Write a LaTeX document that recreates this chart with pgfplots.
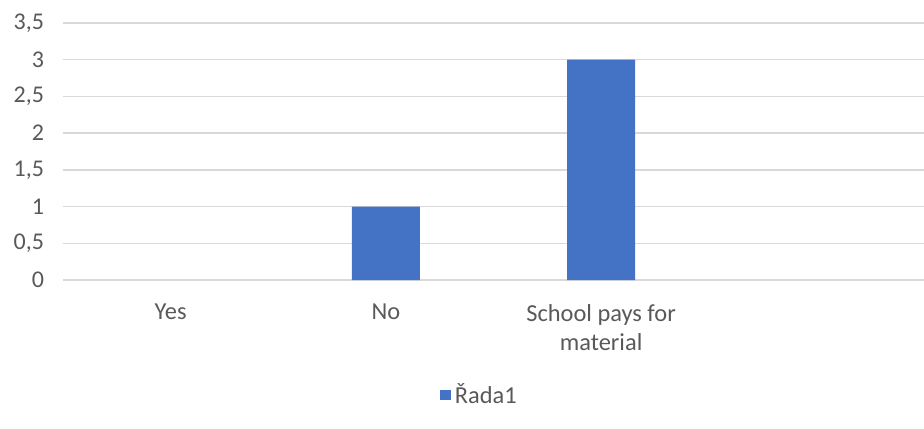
\documentclass[border=0pt]{standalone}
\usepackage{fontspec}
\setmainfont{Carlito}
\usepackage{pgfplots}
\pgfplotsset{compat=1.18}
\definecolor{barblue}{HTML}{4472C4}
\definecolor{txtgray}{HTML}{595959}
\definecolor{gridgray}{HTML}{D9D9D9}
\begin{document}
\begin{tikzpicture}
\begin{axis}[
  at={(0,0)}, anchor=south west,
  scale only axis,
  width=430.5pt, height=128.5pt,
  xmin=-0.5, xmax=3.5,
  ymin=0, ymax=3.5,
  ytick={0,0.5,...,3.5},
  xtick={0,1,2,3},
  xticklabels={Yes,No,School pays for\\material,{}},
  axis line style={draw=none},
  major tick length=0pt,
  ymajorgrids,
  grid style={gridgray, line width=0.75pt},
  /pgf/number format/assume math mode=true,
  /pgf/number format/use comma,
  /pgf/number format/fixed,
  yticklabel style={font=\fontsize{12}{14}\selectfont, text=txtgray, xshift=-6pt},
  xticklabel style={font=\fontsize{12.2}{14.5}\selectfont, text=txtgray, align=center, anchor=north, yshift=-8.5pt},
  ybar, bar width=34pt,
  legend style={at={(0.485,-0.447)}, anchor=center, draw=none, fill=none,
    font=\fontsize{12.2}{14}\selectfont, text=txtgray},
  legend image code/.code={\fill[barblue] (0pt,-2.6pt) rectangle (5.2pt,2.6pt);},
]
\addplot[fill=barblue, draw=none] coordinates {(1,1) (2,3)};
\addlegendentry{Řada1}
\end{axis}
\pgfresetboundingbox
\useasboundingbox (-31.5pt,-74pt) rectangle (430.5pt,140pt);
\end{tikzpicture}
\end{document}
